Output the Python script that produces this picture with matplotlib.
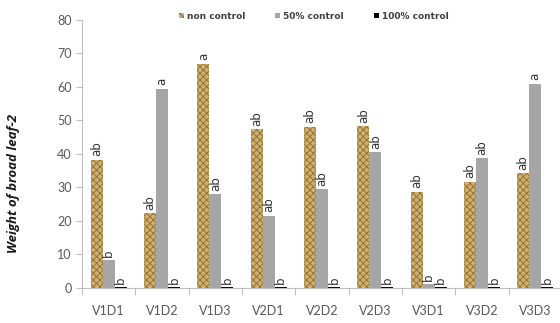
import matplotlib
matplotlib.use("Agg")
import matplotlib.pyplot as plt
import numpy as np

categories = ["V1D1", "V1D2", "V1D3", "V2D1", "V2D2", "V2D3", "V3D1", "V3D2", "V3D3"]
non_control = [38.3, 22.3, 67.0, 47.5, 48.2, 48.4, 28.7, 31.7, 34.3]
control_50 = [8.3, 59.5, 28.0, 21.6, 29.5, 40.5, 1.2, 38.8, 61.0]
control_100 = [0.2, 0.2, 0.2, 0.2, 0.2, 0.2, 0.2, 0.2, 0.2]
letters_non = ["ab", "ab", "a", "ab", "ab", "ab", "ab", "ab", "ab"]
letters_50 = ["b", "a", "ab", "ab", "ab", "ab", "b", "ab", "a"]
letters_100 = ["b", "b", "b", "b", "b", "b", "b", "b", "b"]
series_names = ["non control", "50% control", "100% control"]
y_ticks = [0, 10, 20, 30, 40, 50, 60, 70, 80]

plt.rcParams['hatch.linewidth'] = 0.7
fig = plt.figure(figsize=(5.6, 3.23), dpi=100)
ax = fig.add_axes([0.1464, 0.1084, 0.857, 0.8297])

x = np.arange(len(categories))
w = 0.225
b1 = ax.bar(x - w, non_control, w, color="#d2b170", edgecolor="#93733a",
            linewidth=0, hatch="xxxxx", label=series_names[0])
b2 = ax.bar(x, control_50, w, color="#a6a6a6", linewidth=0, label=series_names[1])
b3 = ax.bar(x + w, control_100, w, color="#000000", linewidth=0, label=series_names[2])

for bars, labs in ((b1, letters_non), (b2, letters_50), (b3, letters_100)):
    for r, t in zip(bars, labs):
        ax.text(r.get_x() + r.get_width() / 2, r.get_height() + 1.0, t,
                rotation=90, ha="center", va="bottom", fontsize=8.5,
                color="#333333", family="DejaVu Sans")

ax.set_xlim(-0.5, len(categories) - 0.5)
ax.set_ylim(0, 80)
ax.set_yticks(y_ticks)
ax.tick_params(axis="y", colors="#bfbfbf", labelcolor="#595959", labelsize=9,
               length=4, width=0.8, direction="out")
for lab in ax.get_yticklabels():
    lab.set_family("Lato")

ax.set_xticks(x)
ax.set_xticklabels(categories, family="Lato", fontsize=9, color="#595959")
ax.tick_params(axis="x", length=0, pad=12)
ax.set_xticks(np.arange(len(categories) + 1) - 0.5, minor=True)
ax.tick_params(axis="x", which="minor", length=5, color="#bfbfbf", width=0.8)

for s in ("top", "right"):
    ax.spines[s].set_visible(False)
ax.spines["left"].set_color("#bfbfbf")
ax.spines["bottom"].set_color("#bfbfbf")
ax.spines["left"].set_linewidth(0.8)
ax.spines["bottom"].set_linewidth(0.8)

ax.set_ylabel("Weight of broad leaf-2", fontsize=9.5, fontstyle="italic",
              fontweight="bold", family="Open Sans", color="#1a1a1a")
ax.yaxis.set_label_coords(-0.13, 0.39)

leg = fig.legend(handles=[b1, b2, b3], labels=series_names, loc="center",
                 bbox_to_anchor=(0.56, 0.95), ncol=3, frameon=False,
                 handlelength=0.6, handleheight=0.6,
                 handletextpad=0.3, columnspacing=3.3,
                 prop={"family": "DejaVu Sans", "weight": "bold", "size": 6.5})
for t in leg.get_texts():
    t.set_color("#404040")

fig.savefig("out.png", dpi=100)
